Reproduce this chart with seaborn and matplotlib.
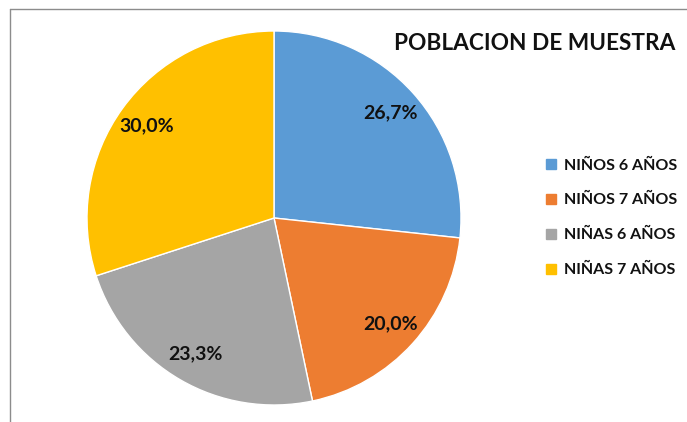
import matplotlib
matplotlib.use("Agg")
import matplotlib.pyplot as plt
from matplotlib.lines import Line2D
import seaborn as sns

# data
categories = ["NIÑOS 6 AÑOS", "NIÑOS 7 AÑOS", "NIÑAS 6 AÑOS", "NIÑAS 7 AÑOS"]
shares = [26.7, 20.0, 23.3, 30.0]
colors = ["#5B9BD5", "#ED7D31", "#A5A5A5", "#FFC000"]
title = "POBLACION DE MUESTRA"

sns.set_style("white")
plt.rcParams['font.family'] = ['Lato', 'DejaVu Sans']

fig = plt.figure(figsize=(6.87, 4.22), dpi=100)
W, H = 687, 422

# pie axes placed in pixel terms: centre (274, 218), radius 187
ax = fig.add_axes([87 / W, (H - 405) / H, 374 / W, 374 / H])
wedges, texts, autotexts = ax.pie(
    shares, colors=colors, startangle=90, counterclock=False,
    autopct=lambda p: f"{p:.1f}%".replace(".", ","), pctdistance=0.84,
    wedgeprops=dict(edgecolor="white", linewidth=1),
    textprops=dict(fontsize=14, fontweight="bold", color="#111111"))
ax.set_xlim(-1, 1)
ax.set_ylim(-1, 1)
ax.set_aspect("equal")
ax.axis("off")

fig.text(675 / W, 1 - 44 / H, title, ha="right", va="center",
         fontsize=16.3, fontweight="bold", color="#111111")

handles = [Line2D([], [], marker="s", linestyle="none", markersize=7,
                  markerfacecolor=c, markeredgecolor=c) for c in colors]
leg = fig.legend(handles, categories, loc="upper left",
                 bbox_to_anchor=(530 / W, 1 - 144 / H), frameon=False,
                 handlelength=0.8, handletextpad=0.4, labelspacing=1.3,
                 prop=dict(size=11.5, weight="bold"))
for t in leg.get_texts():
    t.set_color("#111111")

# chart frame (only top and left edges visible)
fig.add_artist(Line2D([10 / W, 1], [1 - 9 / H, 1 - 9 / H], color="#8c8c8c", lw=1))
fig.add_artist(Line2D([10 / W, 10 / W], [0, 1 - 9 / H], color="#8c8c8c", lw=1))

fig.savefig("out.png", dpi=100)
